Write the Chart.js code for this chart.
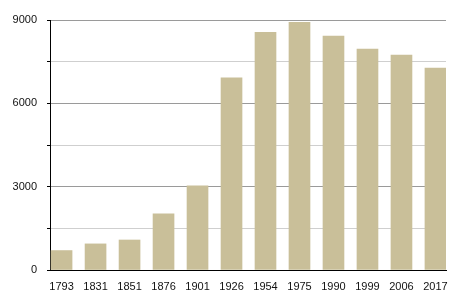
<!DOCTYPE html>
<html>
<head>
<meta charset="utf-8">
<script src="https://cdn.jsdelivr.net/npm/chart.js@4.4.1/dist/chart.umd.min.js"></script>
<style>
  html, body { margin: 0; padding: 0; background: #fff; }
  #wrap { width: 455px; height: 300px; }
</style>
</head>
<body>
<div id="wrap"><canvas id="myChart"></canvas></div>
<script>
// years and population
var years = ['1793', '1831', '1851', '1876', '1901', '1926', '1954', '1975', '1990', '1999', '2006', '2017'];
var population = [700, 940, 1080, 2020, 3030, 6920, 8560, 8920, 8420, 7950, 7740, 7270];
var yTicks = [0, 3000, 6000, 9000];

var barData = [];
for (let i = 0; i < years.length; i++) {
  barData.push({ x: i, y: population[i] });
}

var ctx = document.getElementById('myChart').getContext('2d');
var chart = new Chart(ctx, {
  type: 'bar',
  data: {
    datasets: [{
      data: barData,
      backgroundColor: '#c9bf99',
      barThickness: 21
    }]
  },
  options: {
    responsive: true,
    maintainAspectRatio: false,
    animation: false,
    layout: { padding: { top: 20, right: 9, left: 0, bottom: 0 } },
    plugins: { legend: { display: false }, tooltip: { enabled: false } },
    scales: {
      x: {
        type: 'linear',
        offset: false,
        min: -0.34,
        max: 11.31,
        z: 1,
        afterFit: function(scale) { scale.height = 30; },
        grid: { display: false },
        border: { color: '#000', width: 1 },
        ticks: {
          stepSize: 1,
          includeBounds: false,
          autoSkip: false,
          maxRotation: 0,
          padding: 2,
          color: '#111',
          font: { family: 'Liberation Sans', size: 11 },
          callback: function(v) { return years[v] !== undefined && Number.isInteger(v) ? years[v] : ''; }
        }
      },
      y: {
        min: 0,
        max: 9000,
        afterFit: function(scale) { scale.width = 50; },
        border: { color: '#000', width: 1 },
        grid: {
          color: function(c) { return c.tick && c.tick.value % 3000 === 0 ? '#9a9a9a' : '#cfcfcf'; },
          tickColor: '#000',
          tickLength: 3
        },
        ticks: {
          stepSize: 1500,
          padding: 10,
          color: '#111',
          font: { family: 'Liberation Sans', size: 11 },
          callback: function(v) { return yTicks.indexOf(v) !== -1 ? String(v) : ''; }
        }
      }
    }
  }
});
</script>
</body>
</html>
